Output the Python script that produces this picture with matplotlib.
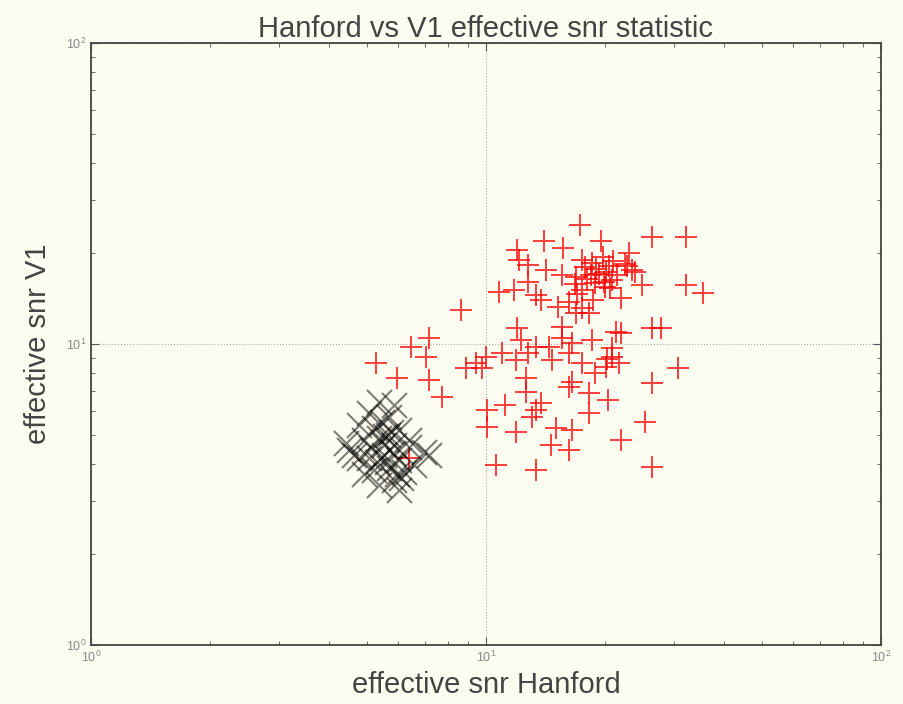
import matplotlib
matplotlib.use('Agg')
import matplotlib.pyplot as plt

# effective snr values (Hanford, V1)
red_h = [17.3, 26.3, 32.0, 14.0, 12.0, 15.7, 19.5, 12.1, 12.8, 17.5, 18.5, 23.0,
         23.4, 14.2, 15.6, 16.9, 20.1, 12.8, 10.8, 11.8, 13.4, 13.8, 17.5, 18.9,
         20.8, 24.8, 22.0, 32.0, 35.5, 16.2, 17.5, 18.2, 16.9, 8.65, 12.0, 15.6,
         15.6, 21.3, 22.0, 26.3, 27.8, 12.3, 13.4, 12.8, 14.4, 16.5, 18.5, 11.0,
         10.0, 9.44, 8.90, 9.77, 11.9, 14.7, 16.2, 17.5, 20.8, 20.1, 21.7, 20.8,
         18.9, 30.7, 12.6, 16.5, 16.2, 26.3, 12.6, 18.2, 20.4, 13.8, 13.4, 11.2,
         10.06, 13.1, 18.2, 10.06, 11.9, 15.0, 16.5, 25.3, 22.0, 14.6, 16.2, 10.6,
         13.4, 26.3, 5.27, 5.96, 6.47, 7.18, 7.05, 7.18, 7.74, 6.39,
         19.0, 20.5, 18.0, 21.5, 19.8, 17.8, 22.5, 20.0, 18.7, 16.8,
         19.3, 21.0, 23.8, 18.4, 20.6, 17.0, 19.9, 22.8, 15.2, 20.3]
red_v = [24.9, 22.7, 22.7, 22.0, 20.5, 20.8, 21.9, 19.0, 18.3, 19.0, 18.6, 20.1,
         17.6, 17.6, 17.0, 16.7, 17.3, 16.1, 14.9, 15.1, 14.5, 14.0, 15.1, 16.0,
         16.3, 15.7, 14.2, 15.7, 14.8, 13.8, 13.2, 12.7, 12.7, 13.0, 11.3, 11.4,
         10.5, 11.0, 10.9, 11.3, 11.3, 10.3, 9.77, 9.33, 9.77, 10.1, 10.3, 9.33,
         9.05, 8.64, 8.32, 8.32, 8.84, 8.84, 9.33, 8.64, 9.05, 8.39, 8.64, 9.70,
         8.01, 8.32, 7.71, 7.48, 7.20, 7.42, 6.93, 6.88, 6.51, 6.37, 6.04, 6.27,
         6.04, 5.72, 5.90, 5.30, 5.10, 5.26, 5.18, 5.51, 4.80, 4.62, 4.45, 3.96,
         3.81, 3.90, 8.64, 7.71, 9.77, 10.5, 9.05, 7.59, 6.67, 4.18,
         17.8, 18.2, 16.5, 17.0, 19.5, 18.0, 18.5, 15.5, 14.0, 15.8,
         17.1, 18.9, 17.4, 16.9, 15.4, 14.6, 16.1, 18.1, 13.3, 8.9]

black_h = [5.37, 5.07, 4.78, 5.69, 6.03, 4.43, 4.92, 5.37, 5.86, 6.39, 6.97, 4.64,
           5.07, 5.52, 6.03, 5.21, 5.69, 6.21, 5.86, 5.37, 4.92, 5.52, 5.21, 5.75,
           4.78, 6.03, 6.58, 7.18, 5.62, 5.13, 5.46, 5.86, 4.51, 6.39, 5.96,
           5.55, 5.80, 5.30, 6.10, 5.65]
black_v = [6.42, 5.90, 5.38, 5.72, 5.18, 4.69, 4.80, 4.87, 4.62, 4.55, 4.38, 4.28,
           4.18, 4.28, 4.12, 3.81, 3.87, 3.76, 3.53, 3.40, 3.70, 4.62, 5.26, 5.10,
           4.18, 3.27, 3.96, 4.28, 4.06, 4.51, 5.51, 6.27, 4.45, 4.80, 3.70,
           4.95, 4.35, 4.05, 3.60, 5.00]

plt.rcParams['font.family'] = ['Liberation Sans', 'DejaVu Sans']
plt.rcParams['mathtext.fontset'] = 'cm'

bg = '#fcfcf0'
fig = plt.figure(figsize=(9.04, 7.04), dpi=100, facecolor=bg)
ax = fig.add_axes([0.1007, 0.0838, 0.8738, 0.8552], facecolor=bg)

ax.plot(red_h, red_v, '+', color='red', ms=16, mew=1.4, alpha=0.75, ls='none')
ax.plot(black_h, black_v, 'x', color='black', ms=18, mew=1.5, alpha=0.5, ls='none')

ax.set_xscale('log')
ax.set_yscale('log')
ax.set_xlim(1, 100)
ax.set_ylim(1, 100)
ax.grid(True, which='major', ls=':', color='#aaaaaa', lw=0.8)
ax.tick_params(which='both', direction='in', top=True, right=True,
               labelsize=9, colors='#555555', labelcolor='#888888')
ax.tick_params(which='major', length=6)
ax.tick_params(which='minor', length=3)
for s in ax.spines.values():
    s.set_color('#444444')
    s.set_linewidth(1.3)

ax.set_title('Hanford vs V1 effective snr statistic', fontsize=21, color='#444444', pad=4)
ax.set_xlabel('effective snr Hanford', fontsize=21, color='#444444', labelpad=4)
ax.set_ylabel('effective snr V1', fontsize=21, color='#444444', labelpad=10)

fig.savefig('out.png', dpi=100, facecolor=bg)
